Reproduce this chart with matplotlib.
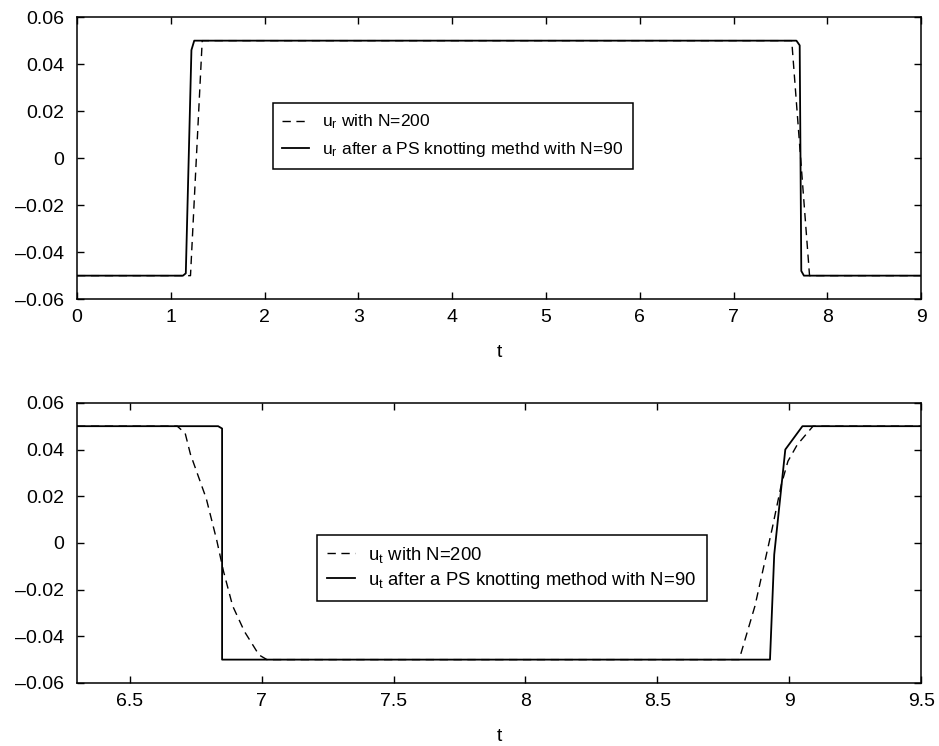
import numpy as np
import matplotlib
matplotlib.use('Agg')
import matplotlib.pyplot as plt
from matplotlib.ticker import FuncFormatter

# top panel: u_r
t_r200 = [0, 1.21, 1.335, 7.62, 7.81, 9]
u_r200 = [-0.05, -0.05, 0.05, 0.05, -0.05, -0.05]
t_r90 = [0, 1.13, 1.16, 1.22, 1.25, 7.67, 7.705, 7.722, 7.75, 9]
u_r90 = [-0.05, -0.05, -0.049, 0.046, 0.05, 0.05, 0.048, -0.048, -0.05, -0.05]

# bottom panel: u_t
t_t200 = [6.3, 6.68, 6.71, 6.73, 6.79, 6.83, 6.855, 6.89, 6.935, 6.99, 7.02,
          8.81, 8.87, 8.935, 8.97, 8.995, 9.03, 9.09, 9.5]
u_t200 = [0.05, 0.05, 0.047, 0.038, 0.019, 0.001, -0.012, -0.027, -0.038, -0.048, -0.05,
          -0.05, -0.027, 0.006, 0.025, 0.035, 0.042, 0.05, 0.05]
t_t90 = [6.3, 6.835, 6.85, 6.85, 8.927, 8.943, 8.985, 9.05, 9.5]
u_t90 = [0.05, 0.05, 0.049, -0.05, -0.05, -0.005, 0.04, 0.05, 0.05]

plt.rcParams['font.family'] = ['Liberation Sans', 'DejaVu Sans']
plt.rcParams['mathtext.default'] = 'regular'
plt.rcParams['font.size'] = 14

fig = plt.figure(figsize=(9.39, 7.46), dpi=100)
ax1 = fig.add_axes([0.082, 0.599, 0.899, 0.378])
ax2 = fig.add_axes([0.082, 0.0845, 0.899, 0.3755])

dash = (0, (6, 4))


def fmt(v, pos):
    if abs(v) < 1e-9:
        return '0'
    return ('%.2f' % v).replace('-', '\u2013')


def style(ax, xlim, xticks):
    ax.set_xlim(*xlim)
    ax.set_ylim(-0.06, 0.06)
    ax.set_xticks(xticks)
    ax.set_yticks(np.arange(-0.06, 0.061, 0.02))
    ax.yaxis.set_major_formatter(FuncFormatter(fmt))
    ax.tick_params(direction='in', top=True, right=True, length=5, width=1,
                   labelsize=14)
    ax.tick_params(axis='x', pad=7)
    ax.tick_params(axis='y', pad=9)
    for s in ax.spines.values():
        s.set_linewidth(1.1)
    ax.set_xlabel('t', fontsize=14, labelpad=13)


leg_kw = dict(loc='upper left', borderaxespad=0, fancybox=False, edgecolor='k',
              framealpha=1, handlelength=1.5, handletextpad=0.75,
              borderpad=0.55)

ax1.plot(t_r200, u_r200, color='k', lw=1, linestyle=dash, label=r'$u_r$ with N=200')
ax1.plot(t_r90, u_r90, color='k', lw=1.3, label=r'$u_r$ after a PS knotting methd with N=90')
style(ax1, (0, 9), range(0, 10))
leg1 = ax1.legend(bbox_to_anchor=(0.232, 0.695), fontsize=12.6, labelspacing=0.5, **leg_kw)
leg1.get_frame().set_linewidth(1.1)

ax2.plot(t_t200, u_t200, color='k', lw=1, linestyle=dash, label=r'$u_t$ with N=200')
ax2.plot(t_t90, u_t90, color='k', lw=1.3, label=r'$u_t$ after a PS knotting method with N=90')
style(ax2, (6.3, 9.5), [6.5, 7, 7.5, 8, 8.5, 9, 9.5])
ax2.set_xticklabels(['6.5', '7', '7.5', '8', '8.5', '9', '9.5'])
leg2 = ax2.legend(bbox_to_anchor=(0.284, 0.529), fontsize=13.3, labelspacing=0.25, **leg_kw)
leg2.get_frame().set_linewidth(1.1)

fig.savefig('out.png', dpi=100)
